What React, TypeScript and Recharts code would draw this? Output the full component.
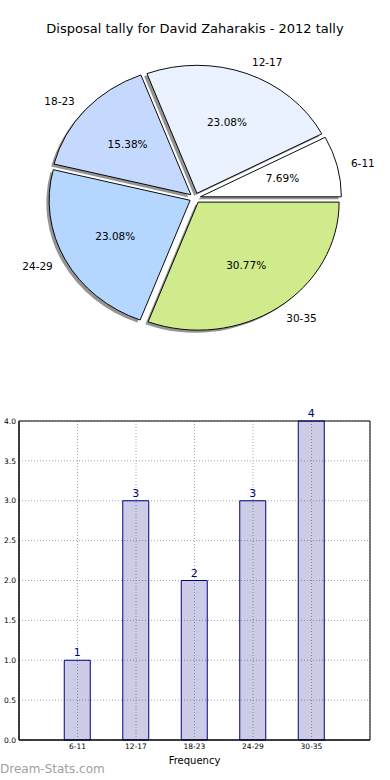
import React from "react";
import {
  PieChart,
  Pie,
  Cell,
  BarChart,
  Bar,
  XAxis,
  YAxis,
  CartesianGrid,
  LabelList,
  ReferenceArea,
} from "recharts";

const categories = ["6-11", "12-17", "18-23", "24-29", "30-35"];
const counts = [1, 3, 2, 3, 4];
const sliceColors = ["#FFFFFF", "#EAF2FF", "#C5D9FF", "#B4D6FF", "#D0EB8C"];
const yTicks = [0, 0.5, 1, 1.5, 2, 2.5, 3, 3.5, 4];

const FONT = "'DejaVu Sans', Verdana, sans-serif";
const RAD = Math.PI / 180;

// pie is drawn in a box that gets squashed vertically, like the matplotlib original
const SQUASH = 0.908;
const PIE_CX = 195;
const PIE_CY = 198 / SQUASH;
const PIE_R = 141;
const EXPLODE = 5.5;

const total = counts.reduce((a, b) => a + b, 0);
const pieData = categories.map((c, i) => ({ name: c, value: counts[i] }));
const barData = categories.map((c, i) => ({ name: c, pos: i + 1, count: counts[i] }));

// mid angle of each slice, used only for the explode offset
const midAngles = counts.map((v, i) => {
  const before = counts.slice(0, i).reduce((a, b) => a + b, 0);
  return ((before + v / 2) / total) * 360;
});

function makeLabel(idx: number) {
  return (props: any) => {
    if (props.index !== idx) return null;
    const { cx, cy, midAngle, outerRadius, percent } = props;
    const cos = Math.cos(-midAngle * RAD);
    const sin = Math.sin(-midAngle * RAD);
    const lx = cx + outerRadius * 1.1 * cos;
    const ly = cy + outerRadius * 1.1 * sin;
    const px = cx + outerRadius * 0.6 * cos;
    const py = cy + outerRadius * 0.6 * sin;
    const unsquash = `scale(1 ${1 / SQUASH})`;
    return (
      <g>
        <text
          transform={`translate(${lx} ${ly}) ${unsquash}`}
          textAnchor={cos >= 0 ? "start" : "end"}
          dominantBaseline="central"
          fontSize={10.5}
          fontFamily={FONT}
          fill="#000"
        >
          {props.name}
        </text>
        <text
          transform={`translate(${px} ${py}) ${unsquash}`}
          textAnchor="middle"
          dominantBaseline="central"
          fontSize={10.5}
          fontFamily={FONT}
          fill="#000"
        >
          {(percent * 100).toFixed(2)}%
        </text>
      </g>
    );
  };
}

export default function App() {
  return (
    <div style={{ position: "absolute", left: 0, top: 0, width: 390, height: 780, background: "#fff", fontFamily: FONT }}>
      <div style={{ position: "absolute", top: 21, left: 0, width: 390, textAlign: "center", fontSize: 13, color: "#000" }}>
        Disposal tally for David Zaharakis - 2012 tally
      </div>

      <div style={{ position: "absolute", top: 0, left: 0, width: 390, height: 420, transform: `scale(1, ${SQUASH})`, transformOrigin: "0 0" }}>
        <PieChart width={390} height={420} margin={{ top: 0, right: 0, bottom: 0, left: 0 }}>
          {/* shadows */}
          {midAngles.map((m, i) => (
            <Pie
              key={`shadow-${i}`}
              data={pieData}
              dataKey="value"
              nameKey="name"
              cx={PIE_CX + EXPLODE * Math.cos(m * RAD) - 2.8}
              cy={PIE_CY - EXPLODE * Math.sin(m * RAD) + 2.8}
              outerRadius={PIE_R}
              startAngle={0}
              endAngle={360}
              labelLine={false}
              isAnimationActive={false}
            >
              {pieData.map((d, j) => (
                <Cell key={`s-${j}`} fill={j === i ? "#666" : "none"} fillOpacity={0.7} stroke="none" />
              ))}
            </Pie>
          ))}
          {/* exploded slices */}
          {midAngles.map((m, i) => (
            <Pie
              key={`slice-${i}`}
              data={pieData}
              dataKey="value"
              nameKey="name"
              cx={PIE_CX + EXPLODE * Math.cos(m * RAD)}
              cy={PIE_CY - EXPLODE * Math.sin(m * RAD)}
              outerRadius={PIE_R}
              startAngle={0}
              endAngle={360}
              labelLine={false}
              label={makeLabel(i)}
              isAnimationActive={false}
            >
              {pieData.map((d, j) => (
                <Cell
                  key={`c-${j}`}
                  fill={j === i ? sliceColors[j] : "none"}
                  stroke={j === i ? "#000" : "none"}
                  strokeWidth={1}
                />
              ))}
            </Pie>
          ))}
        </PieChart>
      </div>

      <div style={{ position: "absolute", top: 400, left: 0 }}>
        <BarChart width={390} height={380} data={barData} margin={{ top: 21, right: 20, bottom: 0, left: 0 }}>
          <CartesianGrid stroke="#a8a8a8" strokeDasharray="1 2" />
          <XAxis
            type="number"
            dataKey="pos"
            domain={[0, 6]}
            ticks={[1, 2, 3, 4, 5]}
            tickFormatter={(v: number) => categories[v - 1] ?? ""}
            height={40}
            tickLine={false}
            tickSize={0}
            tickMargin={4}
            axisLine={{ stroke: "#000" }}
            tick={{ fontSize: 7.5, fill: "#000", fontFamily: FONT }}
            label={{ value: "Frequency", position: "insideBottom", offset: 16, fontSize: 10, fill: "#000", fontFamily: FONT }}
          />
          <YAxis
            domain={[0, 4]}
            ticks={yTicks}
            tickFormatter={(v: number) => v.toFixed(1)}
            width={19}
            tickLine={false}
            tickSize={0}
            tickMargin={3}
            axisLine={{ stroke: "#000" }}
            tick={{ fontSize: 7.5, fill: "#000", fontFamily: FONT }}
          />
          <ReferenceArea x1={0} x2={6} y1={0} y2={4} fill="#fff" fillOpacity={0} stroke="#000" strokeWidth={1} />
          <Bar dataKey="count" barSize={26} fill="#000080" fillOpacity={0.2} stroke="#000080" strokeWidth={1} isAnimationActive={false}>
            <LabelList dataKey="count" position="top" offset={4} fill="#000080" fontSize={11} fontFamily={FONT} />
          </Bar>
        </BarChart>
      </div>

      <div style={{ position: "absolute", left: 0, top: 762, fontSize: 12, color: "#a0a0a0" }}>
        Dream-Stats.com
      </div>
    </div>
  );
}
